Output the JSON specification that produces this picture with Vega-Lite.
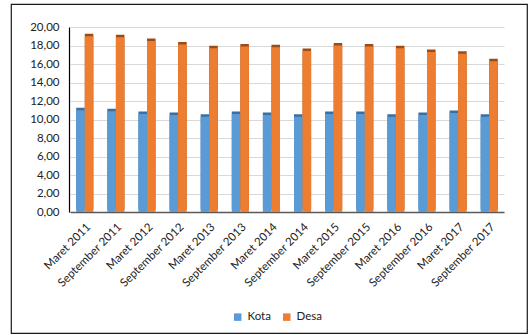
{
  "$schema": "https://vega.github.io/schema/vega-lite/v6.json",
  "autosize": "none",
  "width": 516,
  "height": 329,
  "padding": {"left": 11, "top": 4, "right": 1, "bottom": 2},
  "background": "#ffffff",
  "config": {
    "font": "Lato",
    "view": {"stroke": "#1a1a1a", "strokeWidth": 1.2},
    "axis": {"labelFont": "Lato", "labelFontSize": 11.5, "labelColor": "#222222"}
  },
  "data": {
    "values": [
      {"periode": "Maret 2011", "wilayah": "Kota", "persen": 11.0},
      {"periode": "Maret 2011", "wilayah": "Desa", "persen": 19.0},
      {"periode": "September 2011", "wilayah": "Kota", "persen": 10.9},
      {"periode": "September 2011", "wilayah": "Desa", "persen": 18.9},
      {"periode": "Maret 2012", "wilayah": "Kota", "persen": 10.6},
      {"periode": "Maret 2012", "wilayah": "Desa", "persen": 18.5},
      {"periode": "September 2012", "wilayah": "Kota", "persen": 10.5},
      {"periode": "September 2012", "wilayah": "Desa", "persen": 18.1},
      {"periode": "Maret 2013", "wilayah": "Kota", "persen": 10.3},
      {"periode": "Maret 2013", "wilayah": "Desa", "persen": 17.7},
      {"periode": "September 2013", "wilayah": "Kota", "persen": 10.6},
      {"periode": "September 2013", "wilayah": "Desa", "persen": 17.9},
      {"periode": "Maret 2014", "wilayah": "Kota", "persen": 10.5},
      {"periode": "Maret 2014", "wilayah": "Desa", "persen": 17.8},
      {"periode": "September 2014", "wilayah": "Kota", "persen": 10.3},
      {"periode": "September 2014", "wilayah": "Desa", "persen": 17.4},
      {"periode": "Maret 2015", "wilayah": "Kota", "persen": 10.6},
      {"periode": "Maret 2015", "wilayah": "Desa", "persen": 18.0},
      {"periode": "September 2015", "wilayah": "Kota", "persen": 10.6},
      {"periode": "September 2015", "wilayah": "Desa", "persen": 17.9},
      {"periode": "Maret 2016", "wilayah": "Kota", "persen": 10.3},
      {"periode": "Maret 2016", "wilayah": "Desa", "persen": 17.7},
      {"periode": "September 2016", "wilayah": "Kota", "persen": 10.5},
      {"periode": "September 2016", "wilayah": "Desa", "persen": 17.3},
      {"periode": "Maret 2017", "wilayah": "Kota", "persen": 10.7},
      {"periode": "Maret 2017", "wilayah": "Desa", "persen": 17.1},
      {"periode": "September 2017", "wilayah": "Kota", "persen": 10.3},
      {"periode": "September 2017", "wilayah": "Desa", "persen": 16.3}
    ]
  },
  "encoding": {
    "x": {
      "field": "periode",
      "type": "nominal",
      "sort": null,
      "scale": {"range": [59, 493], "paddingInner": 0.45, "paddingOuter": 0.2},
      "axis": {
        "title": null,
        "orient": "bottom",
        "offset": -121,
        "labelAngle": -45,
        "labelPadding": 9,
        "ticks": false,
        "domainColor": "#595959",
        "domainWidth": 1.5,
        "grid": false
      }
    },
    "xOffset": {"field": "wilayah", "type": "nominal", "sort": ["Kota", "Desa"], "scale": {"paddingInner": 0}},
    "y": {
      "field": "persen",
      "type": "quantitative",
      "scale": {"domain": [0, 20], "range": [208, 23], "nice": false},
      "axis": {
        "title": null,
        "orient": "left",
        "offset": -58,
        "values": [0, 2, 4, 6, 8, 10, 12, 14, 16, 18, 20],
        "labelExpr": "replace(format(datum.value, '.2f'), '.', ',')",
        "labelPadding": 10,
        "ticks": false,
        "domainColor": "#000000",
        "domainWidth": 1.2,
        "grid": true,
        "gridColor": "#d9d9d9",
        "gridWidth": 1
      }
    }
  },
  "layer": [
    {
      "mark": {"type": "bar", "xOffset": 2.5, "yOffset": -2.5},
      "encoding": {
        "fill": {
          "condition": {"test": "datum.wilayah === 'Kota'", "value": "#3c6e9f"},
          "value": "#9c4d17"
        }
      }
    },
    {
      "mark": {"type": "bar"},
      "encoding": {
        "color": {
          "field": "wilayah",
          "type": "nominal",
          "sort": ["Kota", "Desa"],
          "scale": {"domain": ["Kota", "Desa"], "range": ["#5b9bd5", "#ed7d31"]},
          "legend": {
            "title": null,
            "orient": "none",
            "direction": "horizontal",
            "legendX": 221,
            "legendY": 307,
            "padding": 0,
            "symbolType": "square",
            "symbolSize": 56,
            "symbolStrokeWidth": 0,
            "labelFont": "Lato",
            "labelFontSize": 11.5,
            "labelColor": "#222222",
            "columnPadding": 10,
            "labelOffset": 4
          }
        }
      }
    }
  ]
}
